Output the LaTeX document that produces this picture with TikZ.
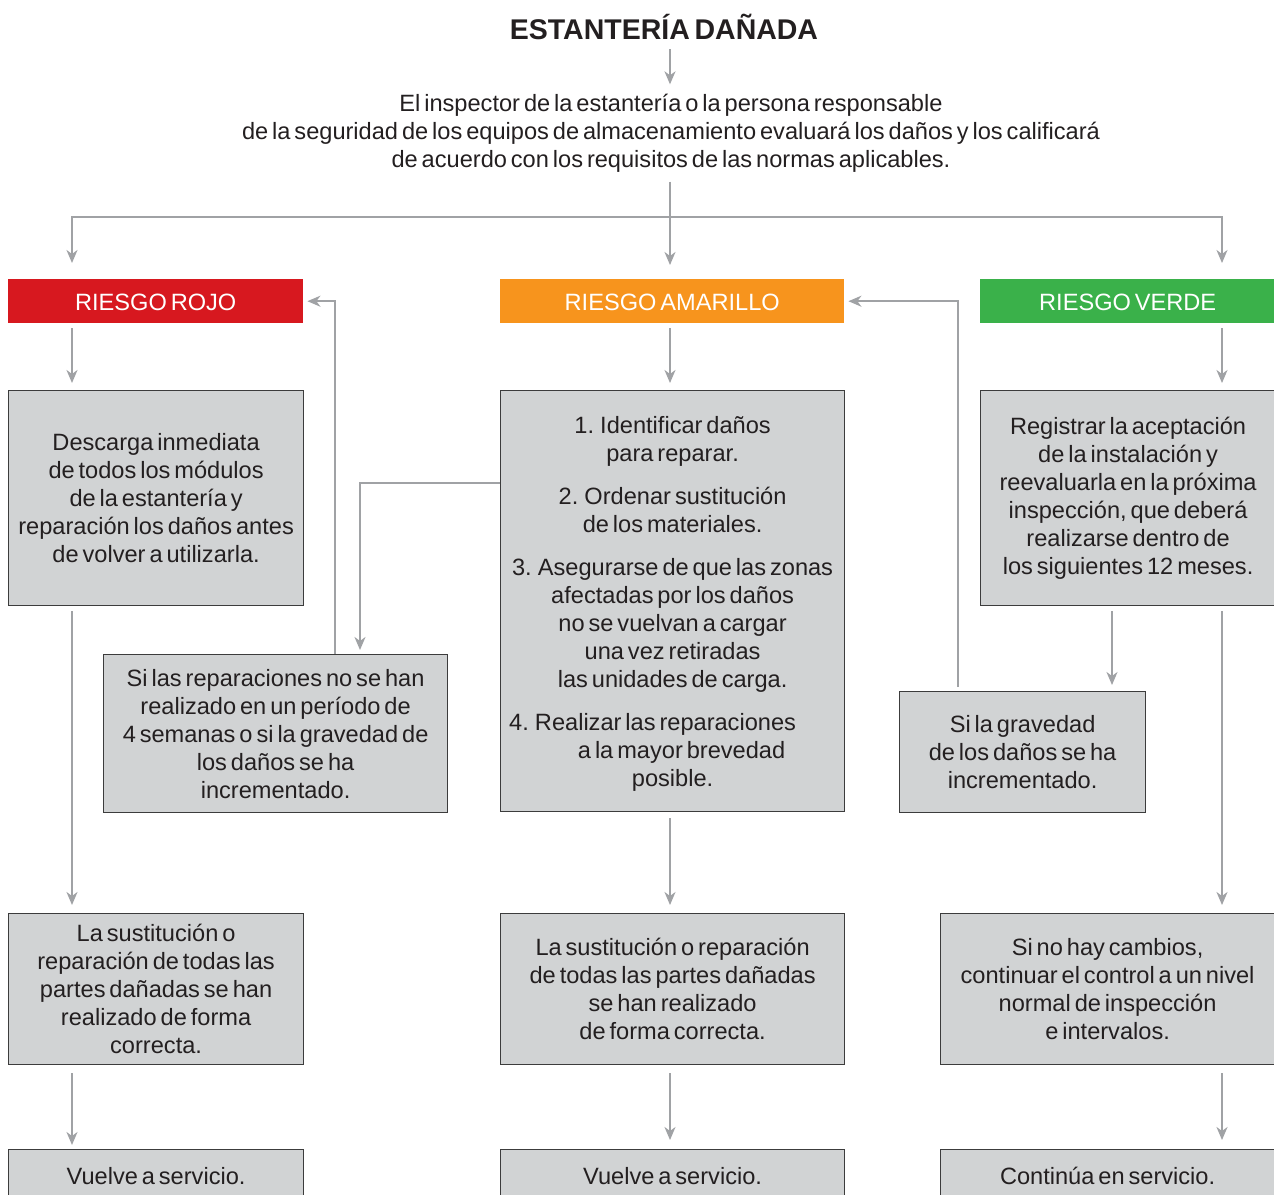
\documentclass[tikz,border=0pt]{standalone}
\usepackage{fontspec}
\setmainfont[WordSpace=0.6]{Liberation Sans}
\usetikzlibrary{arrows.meta}
\definecolor{lgray}{HTML}{A0A2A5}
\definecolor{boxfill}{HTML}{D1D3D4}
\definecolor{boxline}{HTML}{3C3C3C}
\definecolor{txt}{HTML}{231F20}
\definecolor{rojo}{HTML}{D7181F}
\definecolor{amar}{HTML}{F7941D}
\definecolor{verde}{HTML}{3AB14A}
\begin{document}
\begin{tikzpicture}[x=1pt,y=-1pt,
 every node/.style={font=\fontsize{23.6}{28}\selectfont, text=txt},
 box/.style={draw=boxline, line width=1.2pt, fill=boxfill, anchor=north west, align=center, inner sep=0pt},
 hdr/.style={fill=#1, anchor=north west, text=white, inner sep=0pt, minimum height=44pt, text height=18pt, text depth=0pt},
 arr/.style={draw=lgray, line width=1.8pt, -{Stealth[length=13pt,width=11pt,inset=4pt]}}]
\useasboundingbox (0,0) rectangle (1274,1194);
\clip (0,0) rectangle (1274,1194);

\coordinate (xL) at (72,0);
\coordinate (xM) at (670,0);
\coordinate (xR) at (1222,0);
\coordinate (xR2) at (1112,0);
\coordinate (xF1) at (335,0);
\coordinate (xF2) at (360,0);
\coordinate (xF3) at (958,0);
\coordinate (hb) at (670,217);

\node[font=\bfseries\fontsize{28.5}{32}\selectfont] (title) at (664,27) {ESTANTERÍA DAÑADA};
\node[align=center] (intro) at (671,133) {El inspector de la estantería o la persona responsable\\de la seguridad de los equipos de almacenamiento evaluará los daños y los calificará\\de acuerdo con los requisitos de las normas aplicables.};

\node[hdr=rojo, minimum width=295pt] (red) at (8,279) {RIESGO ROJO};
\node[hdr=amar, minimum width=344pt] (amber) at (500,279) {RIESGO AMARILLO};
\node[hdr=verde, minimum width=295pt] (green) at (980,279) {RIESGO VERDE};

\node[box, minimum width=295pt, minimum height=215pt] (b1) at (8,390) {Descarga inmediata\\de todos los módulos\\de la estantería y\\reparación los daños antes\\de volver a utilizarla.};
\node[box, minimum width=344pt, minimum height=421pt] (b2) at (500,390) {\rule{0pt}{23pt}1. Identificar daños\\para reparar.\\[15pt]2. Ordenar sustitución\\de los materiales.\\[15pt]3. Asegurarse de que las zonas\\afectadas por los daños\\no se vuelvan a cargar\\una vez retiradas\\las unidades de carga.\\[15pt]4. Realizar las reparaciones\hspace*{40pt}\mbox{}\\\mbox{}\hspace*{18pt}a la mayor brevedad\\posible.};
\node[box, minimum width=295pt, minimum height=215pt] (b3) at (980,390) {Registrar la aceptación\\de la instalación y\\reevaluarla en la próxima\\inspección, que deberá\\realizarse dentro de\\los siguientes 12 meses.};

\node[box, minimum width=344pt, minimum height=158pt] (m1) at (103,654) {Si las reparaciones no se han\\realizado en un período de\\4 semanas o si la gravedad de\\los daños se ha\\incrementado.};
\node[box, minimum width=246pt, minimum height=121pt] (m3) at (899,691) {Si la gravedad\\de los daños se ha\\incrementado.};

\node[box, minimum width=295pt, minimum height=151pt] (c1) at (8,913) {La sustitución o\\reparación de todas las\\partes dañadas se han\\realizado de forma\\correcta.};
\node[box, minimum width=344pt, minimum height=151pt] (c2) at (500,913) {La sustitución o reparación\\de todas las partes dañadas\\se han realizado\\de forma correcta.};
\node[box, minimum width=334pt, minimum height=151pt] (c3) at (940,913) {Si no hay cambios,\\continuar el control a un nivel\\normal de inspección\\e intervalos.};

\node[box, minimum width=295pt, minimum height=52pt] (d1) at (8,1149) {Vuelve a servicio.};
\node[box, minimum width=344pt, minimum height=52pt] (d2) at (500,1149) {Vuelve a servicio.};
\node[box, minimum width=334pt, minimum height=52pt] (d3) at (940,1149) {Continúa en servicio.};

\draw[arr] ([yshift=-6pt]title.south -| xM) -- ([yshift=6pt]intro.north -| xM);
\draw[arr] ([yshift=-6pt]intro.south -| xM) -- ([yshift=14pt]amber.north -| xM);
\draw[arr] (hb) -| ([yshift=16pt]red.north -| xL);
\draw[arr] (hb) -| ([yshift=16pt]green.north -| xR);

\draw[arr] ([yshift=-5pt]red.south -| xL) -- ([yshift=7pt]b1.north -| xL);
\draw[arr] ([yshift=-5pt]amber.south -| xM) -- ([yshift=7pt]b2.north -| xM);
\draw[arr] ([yshift=-5pt]green.south -| xR) -- ([yshift=7pt]b3.north -| xR);

\draw[arr] ([yshift=-5pt]b1.south -| xL) -- ([yshift=8pt]c1.north -| xL);
\draw[arr] ([yshift=-6pt]b2.south -| xM) -- ([yshift=8pt]c2.north -| xM);
\draw[arr] ([yshift=-5pt]b3.south -| xR) -- ([yshift=8pt]c3.north -| xR);
\draw[arr] ([yshift=-5pt]b3.south -| xR2) -- ([yshift=6pt]m3.north -| xR2);

\draw[arr] ([yshift=-8pt]c1.south -| xL) -- ([yshift=4pt]d1.north -| xL);
\draw[arr] ([yshift=-8pt]c2.south -| xM) -- ([yshift=9pt]d2.north -| xM);
\draw[arr] ([yshift=-8pt]c3.south -| xR) -- ([yshift=9pt]d3.north -| xR);

\draw[arr] (m1.north -| xF1) |- ([xshift=4pt]red.east);
\draw[arr] (b2.west |- 0,483) -| ([yshift=4pt]m1.north -| xF2);
\draw[arr] ([yshift=4pt]m3.north -| xF3) |- ([xshift=4pt]amber.east);
\end{tikzpicture}
\end{document}
